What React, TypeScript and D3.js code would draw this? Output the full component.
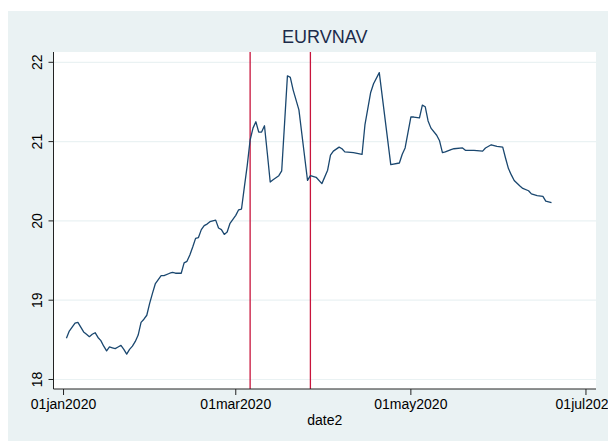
import React from 'react'
import * as d3 from 'd3'

// traced NAV values, EURVNAV, 2020
const dates = [
  '2020-01-02', '2020-01-03', '2020-01-04', '2020-01-05', '2020-01-06', '2020-01-07', '2020-01-08',
  '2020-01-09', '2020-01-10', '2020-01-11', '2020-01-12', '2020-01-13', '2020-01-14', '2020-01-15',
  '2020-01-16', '2020-01-17', '2020-01-18', '2020-01-19', '2020-01-20', '2020-01-21', '2020-01-22',
  '2020-01-23', '2020-01-24', '2020-01-25', '2020-01-26', '2020-01-27', '2020-01-28', '2020-01-29',
  '2020-01-30', '2020-01-31', '2020-02-01', '2020-02-02', '2020-02-04', '2020-02-05', '2020-02-07',
  '2020-02-08', '2020-02-09', '2020-02-11', '2020-02-12', '2020-02-13', '2020-02-14', '2020-02-15',
  '2020-02-16', '2020-02-17', '2020-02-18', '2020-02-19', '2020-02-20', '2020-02-21', '2020-02-23',
  '2020-02-24', '2020-02-25', '2020-02-26', '2020-02-27', '2020-02-28', '2020-02-29', '2020-03-01',
  '2020-03-02', '2020-03-03', '2020-03-04', '2020-03-05', '2020-03-06', '2020-03-07', '2020-03-08',
  '2020-03-09', '2020-03-10', '2020-03-11', '2020-03-12', '2020-03-13', '2020-03-14', '2020-03-16',
  '2020-03-17', '2020-03-18', '2020-03-19', '2020-03-20', '2020-03-21', '2020-03-23', '2020-03-26',
  '2020-03-27', '2020-03-29', '2020-03-31', '2020-04-02', '2020-04-03', '2020-04-04', '2020-04-06',
  '2020-04-07', '2020-04-08', '2020-04-11', '2020-04-14', '2020-04-15', '2020-04-17', '2020-04-18',
  '2020-04-20', '2020-04-24', '2020-04-27', '2020-04-28', '2020-04-29', '2020-05-01', '2020-05-02',
  '2020-05-04', '2020-05-05', '2020-05-06', '2020-05-07', '2020-05-08', '2020-05-10', '2020-05-11',
  '2020-05-12', '2020-05-13', '2020-05-15', '2020-05-16', '2020-05-19', '2020-05-20', '2020-05-23',
  '2020-05-26', '2020-05-27', '2020-05-29', '2020-05-31', '2020-06-02', '2020-06-03', '2020-06-04',
  '2020-06-05', '2020-06-06', '2020-06-08', '2020-06-09', '2020-06-11', '2020-06-12', '2020-06-14',
  '2020-06-16', '2020-06-17', '2020-06-18', '2020-06-19',
]

const nav = [
  18.52, 18.61, 18.66, 18.71, 18.72, 18.66, 18.6,
  18.57, 18.54, 18.57, 18.59, 18.53, 18.49, 18.42,
  18.36, 18.41, 18.4, 18.39, 18.41, 18.43, 18.38,
  18.32, 18.38, 18.42, 18.48, 18.56, 18.72, 18.76,
  18.81, 18.96, 19.09, 19.21, 19.31, 19.31, 19.34,
  19.35, 19.34, 19.34, 19.47, 19.49, 19.57, 19.67,
  19.78, 19.79, 19.89, 19.94, 19.96, 19.99, 20.01,
  19.91, 19.89, 19.83, 19.86, 19.97, 20.02, 20.07,
  20.14, 20.15, 20.43, 20.7, 21.02, 21.17, 21.25,
  21.12, 21.12, 21.2, 20.85, 20.49, 20.52, 20.57,
  20.63, 21.23, 21.83, 21.81, 21.65, 21.4, 20.51,
  20.57, 20.55, 20.47, 20.64, 20.83, 20.88, 20.93,
  20.91, 20.87, 20.86, 20.84, 21.21, 21.62, 21.73,
  21.87, 20.71, 20.73, 20.84, 20.92, 21.31, 21.31,
  21.3, 21.46, 21.44, 21.26, 21.17, 21.08, 21.01,
  20.86, 20.87, 20.9, 20.91, 20.92, 20.89, 20.89,
  20.88, 20.92, 20.96, 20.94, 20.93, 20.79, 20.66,
  20.58, 20.51, 20.44, 20.41, 20.38, 20.34, 20.32,
  20.31, 20.25, 20.24, 20.23,
]

const eventDates = ['2020-03-06', '2020-03-27']
const xTicks = ['2020-01-01', '2020-03-01', '2020-05-01', '2020-07-01']
const yTicks = [18, 19, 20, 21, 22]

const parse = d3.utcParse('%Y-%m-%d')
const fmt = (d: Date) => d3.utcFormat('%d%b%Y')(d).toLowerCase()

const W = 608
const H = 441
const plot = { left: 53.5, right: 596, top: 52, bottom: 389 }
const font = '"Liberation Sans", Arial, Helvetica, sans-serif'

export default function App() {
  const points = dates.map((d, i) => ({ date: parse(d)!, v: nav[i] }))

  const x = d3
    .scaleUtc()
    .domain([parse('2019-12-28')!.getTime() + 12 * 3600e3, parse('2020-07-04')!.getTime() + 12 * 3600e3])
    .range([plot.left, plot.right])

  const y = d3.scaleLinear().domain([17.88, 22.13]).range([plot.bottom, plot.top])

  const line = d3
    .line<{ date: Date; v: number }>()
    .x(d => x(d.date))
    .y(d => y(d.v))

  return (
    <svg
      width={W}
      height={H}
      style={{ position: 'absolute', left: 0, top: 0, fontFamily: font }}
    >
      <rect x={0} y={0} width={W} height={H} fill="#ffffff" />
      <rect x={8} y={11} width={W - 8} height={H - 11} fill="#eaf2f3" />
      <rect
        x={plot.left}
        y={plot.top}
        width={plot.right - plot.left}
        height={plot.bottom - plot.top}
        fill="#ffffff"
      />

      <text x={(plot.left + plot.right) / 2} y={43} textAnchor="middle" fontSize={18} fill="#1c2b4a">
        EURVNAV
      </text>

      {/* grid */}
      {yTicks.map(t => (
        <line
          key={'g' + t}
          x1={plot.left}
          x2={plot.right}
          y1={y(t)}
          y2={y(t)}
          stroke="#eaf2f3"
          strokeWidth={1.2}
        />
      ))}

      {/* event lines */}
      {eventDates.map(d => (
        <line
          key={d}
          x1={x(parse(d)!)}
          x2={x(parse(d)!)}
          y1={plot.top}
          y2={plot.bottom}
          stroke="#c8143c"
          strokeWidth={1.3}
        />
      ))}

      <path d={line(points) ?? ''} fill="none" stroke="#1a476f" strokeWidth={1.3} strokeLinejoin="round" />

      {/* axes */}
      <line x1={plot.left} x2={plot.left} y1={plot.top} y2={plot.bottom} stroke="#222" strokeWidth={1} />
      <line x1={plot.left} x2={plot.right} y1={plot.bottom} y2={plot.bottom} stroke="#222" strokeWidth={1} />

      {yTicks.map(t => (
        <g key={'y' + t}>
          <line x1={plot.left - 5} x2={plot.left} y1={y(t)} y2={y(t)} stroke="#222" />
          <text
            transform={`translate(42,${y(t)}) rotate(-90)`}
            textAnchor="middle"
            fontSize={14}
            fill="#000"
          >
            {t}
          </text>
        </g>
      ))}

      {xTicks.map(s => {
        const d = parse(s)!
        return (
          <g key={s}>
            <line x1={x(d)} x2={x(d)} y1={plot.bottom} y2={plot.bottom + 6} stroke="#222" />
            <text x={x(d)} y={409} textAnchor="middle" fontSize={14} fill="#000">
              {fmt(d)}
            </text>
          </g>
        )
      })}

      <text x={(plot.left + plot.right) / 2} y={425} textAnchor="middle" fontSize={14} fill="#000">
        date2
      </text>
    </svg>
  )
}
